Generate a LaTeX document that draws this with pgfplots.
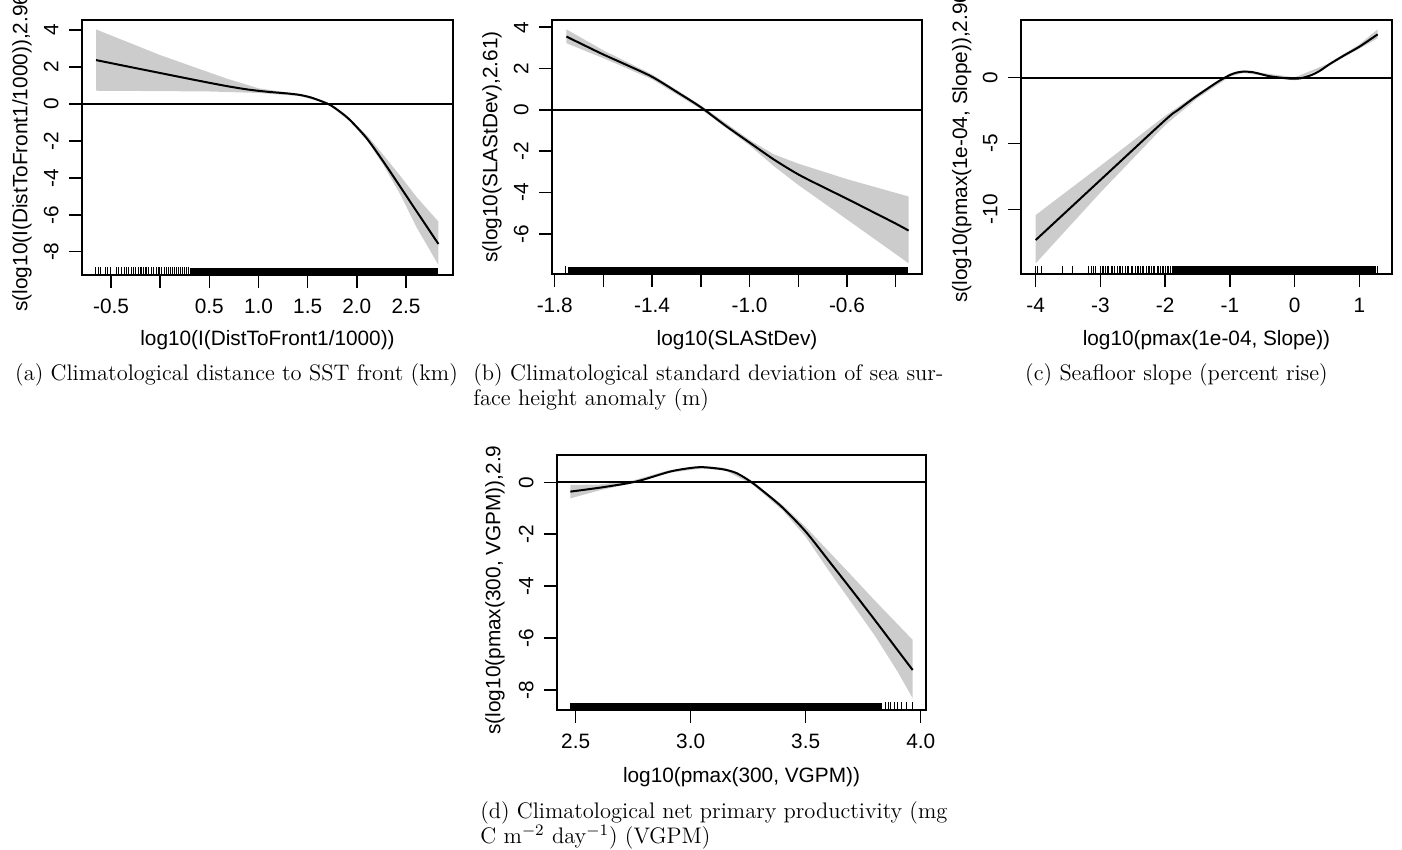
\documentclass[border=0pt]{standalone}
\usepackage{pgfplots}
\pgfplotsset{compat=1.18}
\usepackage{fontspec}
\newfontfamily\rsans{Liberation Sans}
\newcommand\rfont{\rsans\fontsize{10.4pt}{12pt}\selectfont}
\newcommand\capfont{\fontsize{11.25pt}{13.5pt}\selectfont}
\definecolor{bandgray}{RGB}{204,204,204}

\pgfplotsset{
  rstyle/.style={
    scale only axis,
    anchor=south west,
    axis line style={line width=0.75pt},
    tick align=outside,
    tick pos=left,
    major tick length=6.5pt,
    every tick/.style={black, line width=0.75pt},
    minor tick num=0,
    tick label style={font=\rfont, inner sep=0pt},
    xticklabel style={anchor=base},
    yticklabel style={rotate=90, anchor=base},
    xticklabel shift=12.9pt,
    yticklabel shift=5.3pt,
    every axis x label/.style={font=\rfont, anchor=center},
    every axis y label/.style={font=\rfont, rotate=90, anchor=west, inner sep=0pt},
    clip=true,
  },
  band/.style={fill=bandgray, draw=none},
  fit/.style={black, line width=1pt, smooth},
  zero/.style={black, line width=0.85pt},
  rug/.style={only marks, mark=|, mark size=1.9pt, mark options={line width=0.5pt, black}},
  rugblock/.style={fill=black, draw=none},
}

\begin{document}
\begin{tikzpicture}

% (a) distance to SST front
\begin{axis}[rstyle, at={(41pt,-137.5pt)}, width=185.5pt, height=127.5pt,
  xmin=-0.795, xmax=2.978, ymin=-9.26, ymax=4.55,
  xtick={-0.5,0,0.5,1,1.5,2,2.5}, xticklabels={-0.5,,0.5,1.0,1.5,2.0,2.5},
  ytick={-8,-6,-4,-2,0,2,4}, yticklabels={-8,-6,-4,-2,0,2,4},
  xlabel={log10(I(DistToFront1/1000))},
  xlabel style={at={(axis description cs:0.5,-0.257)}},
  ylabel={s(log10(I(DistToFront1/1000)),2.96)},
  ylabel style={at={(axis description cs:-0.162,-0.145)}},
]
\addplot[band] coordinates {
  (-0.652,4.04) (0,2.65) (0.67,1.39) (1.0,0.85) (1.3,0.62) (1.42,0.55) (1.63,0.23)
  (1.73,0.0) (1.93,-0.8) (2.1,-1.68) (2.27,-2.76) (2.44,-3.88) (2.61,-5.05) (2.83,-6.37)
  (2.83,-8.72) (2.61,-6.7) (2.44,-4.88) (2.27,-3.30) (2.1,-1.95) (1.93,-0.95)
  (1.73,-0.1) (1.63,0.13) (1.42,0.43) (1.3,0.48) (1.0,0.6) (0.5,0.68) (0,0.70) (-0.652,0.72)
} -- cycle;
\addplot[zero] coordinates {(-0.795,0) (2.978,0)};
\addplot[fit] coordinates {
  (-0.652,2.38) (-0.3,2.0) (0,1.68) (0.3,1.36) (0.5,1.15) (0.7,0.95) (0.9,0.78)
  (1.1,0.66) (1.3,0.57) (1.423,0.49) (1.53,0.36) (1.626,0.18) (1.728,-0.05)
  (1.83,-0.42) (1.931,-0.87) (2.101,-1.86) (2.27,-3.12) (2.44,-4.47)
  (2.61,-5.83) (2.83,-7.58)
};
\addplot[rugblock] coordinates {(0.30,-9.26) (2.83,-9.26) (2.83,-8.854) (0.30,-8.854)} -- cycle;
\addplot[rug] coordinates {
  (-0.656,-9.057) (-0.629,-9.057) (-0.602,-9.057) (-0.561,-9.057) (-0.534,-9.057)
  (-0.510,-9.057) (-0.442,-9.057) (-0.426,-9.057) (-0.391,-9.057) (-0.365,-9.057)
  (-0.340,-9.057) (-0.324,-9.057) (-0.289,-9.057) (-0.273,-9.057) (-0.256,-9.057)
  (-0.222,-9.057) (-0.205,-9.057) (-0.188,-9.057) (-0.171,-9.057) (-0.154,-9.057)
  (-0.137,-9.057) (-0.121,-9.057) (-0.086,-9.057) (-0.070,-9.057) (-0.042,-9.057)
  (-0.022,-9.057) (-0.002,-9.057) (0.018,-9.057) (0.039,-9.057) (0.060,-9.057)
  (0.080,-9.057) (0.100,-9.057) (0.121,-9.057) (0.141,-9.057) (0.161,-9.057)
  (0.182,-9.057) (0.202,-9.057) (0.222,-9.057) (0.243,-9.057) (0.263,-9.057) (0.283,-9.057)
};
\end{axis}

% (b) SLA standard deviation
\begin{axis}[rstyle, at={(276pt,-137pt)}, width=185pt, height=127pt,
  xmin=-1.811, xmax=-0.292, ymin=-7.94, ymax=4.35,
  xtick={-1.8,-1.6,-1.4,-1.2,-1.0,-0.8,-0.6,-0.4}, xticklabels={-1.8,,-1.4,,-1.0,,-0.6,},
  ytick={-6,-4,-2,0,2,4}, yticklabels={-6,-4,-2,0,2,4},
  xlabel={log10(SLAStDev)},
  xlabel style={at={(axis description cs:0.5,-0.26)}},
  ylabel={s(log10(SLAStDev),2.61)},
  ylabel style={at={(axis description cs:-0.162,0.043)}},
]
\addplot[band] coordinates {
  (-1.752,3.9) (-1.6,2.88) (-1.4,1.72) (-1.2,0.22) (-1.0,-1.45) (-0.9,-2.15)
  (-0.8,-2.6) (-0.6,-3.35) (-0.347,-4.19)
  (-0.347,-7.42) (-0.6,-5.3) (-0.8,-3.63) (-0.9,-2.72) (-1.0,-1.72)
  (-1.2,0.04) (-1.4,1.48) (-1.6,2.5) (-1.752,3.23)
} -- cycle;
\addplot[zero] coordinates {(-1.811,0) (-0.292,0)};
\addplot[fit] coordinates {
  (-1.752,3.55) (-1.7,3.25) (-1.6,2.68) (-1.5,2.15) (-1.4,1.6) (-1.3,0.88)
  (-1.2,0.13) (-1.1,-0.75) (-1.0,-1.58) (-0.9,-2.4) (-0.8,-3.12) (-0.7,-3.72)
  (-0.6,-4.3) (-0.5,-4.9) (-0.4,-5.5) (-0.347,-5.84)
};
\addplot[rugblock] coordinates {(-1.745,-7.94) (-0.349,-7.94) (-0.349,-7.577) (-1.745,-7.577)} -- cycle;
\addplot[rug] coordinates {(-1.757,-7.758)};
\end{axis}

% (c) seafloor slope
\begin{axis}[rstyle, at={(510.5pt,-137pt)}, width=185.5pt, height=127pt,
  xmin=-4.227, xmax=1.505, ymin=-14.91, ymax=4.38,
  xtick={-4,-3,-2,-1,0,1}, xticklabels={-4,-3,-2,-1,0,1},
  ytick={-10,-5,0}, yticklabels={-10,-5,0},
  xlabel={log10(pmax(1e-04, Slope))},
  xlabel style={at={(axis description cs:0.5,-0.26)}},
  ylabel={s(log10(pmax(1e-04, Slope)),2.96)},
  ylabel style={at={(axis description cs:-0.16,-0.114)}},
]
\addplot[band] coordinates {
  (-4,-10.43) (-3,-6.7) (-2,-2.9) (-1.5,-1.2) (-1.0,0.32) (-0.79,0.56) (-0.5,0.36)
  (0,0.02) (0.5,1.02) (1.0,2.52) (1.283,3.67)
  (1.283,2.99) (1.0,2.2) (0.5,0.84) (0,-0.2) (-0.5,0.16) (-0.79,0.36) (-1.0,0.08)
  (-1.5,-1.55) (-2,-3.6) (-3,-8.72) (-4,-14.1)
} -- cycle;
\addplot[zero] coordinates {(-4.227,0) (1.505,0)};
\addplot[fit] coordinates {
  (-4,-12.33) (-3,-7.77) (-2,-3.22) (-1.8,-2.45) (-1.563,-1.57) (-1.3,-0.68)
  (-1.15,-0.2) (-1.0,0.2) (-0.9,0.38) (-0.79,0.46) (-0.65,0.42) (-0.53,0.28)
  (-0.4,0.12) (-0.27,0.03) (-0.1,-0.06) (0,-0.08) (0.1,-0.04) (0.26,0.2)
  (0.4,0.55) (0.52,0.96) (0.75,1.65) (1.0,2.35) (1.283,3.29)
};
\addplot[rugblock] coordinates {(-1.89,-14.91) (1.25,-14.91) (1.25,-14.34) (-1.89,-14.34)} -- cycle;
\addplot[rug] coordinates {
  (-4.0,-14.625) (-3.974,-14.625) (-3.91,-14.625) (-3.588,-14.625) (-3.434,-14.625)
  (-3.177,-14.625) (-3.14,-14.625) (-3.10,-14.625) (-3.074,-14.625) (-2.996,-14.625)
  (-2.97,-14.625) (-2.945,-14.625) (-2.919,-14.625) (-2.893,-14.625) (-2.868,-14.625)
  (-2.827,-14.625) (-2.806,-14.625) (-2.775,-14.625) (-2.739,-14.625) (-2.713,-14.625)
  (-2.688,-14.625) (-2.652,-14.625) (-2.61,-14.625) (-2.585,-14.625) (-2.559,-14.625)
  (-2.518,-14.625) (-2.497,-14.625) (-2.456,-14.625) (-2.43,-14.625) (-2.405,-14.625)
  (-2.379,-14.625) (-2.353,-14.625) (-2.327,-14.625) (-2.291,-14.625) (-2.26,-14.625)
  (-2.24,-14.625) (-2.209,-14.625) (-2.183,-14.625) (-2.157,-14.625) (-2.121,-14.625)
  (-2.096,-14.625) (-2.07,-14.625) (-2.044,-14.625) (-2.018,-14.625) (-1.993,-14.625)
  (-1.967,-14.625) (-1.941,-14.625) (-1.916,-14.625) (1.283,-14.625)
};
\end{axis}

% (d) VGPM productivity
\begin{axis}[rstyle, at={(278.5pt,-355pt)}, width=184.5pt, height=127.5pt,
  xmin=2.419, xmax=4.023, ymin=-8.77, ymax=1.05,
  xtick={2.5,3,3.5,4}, xticklabels={2.5,3.0,3.5,4.0},
  ytick={-8,-6,-4,-2,0}, yticklabels={-8,-6,-4,-2,0},
  xlabel={log10(pmax(300, VGPM))},
  xlabel style={at={(axis description cs:0.5,-0.263)}},
  ylabel={s(log10(pmax(300, VGPM)),2.9},
  ylabel style={at={(axis description cs:-0.168,-0.098)}},
]
\addplot[band] coordinates {
  (2.477,-0.10) (2.6,-0.09) (2.75,0.07) (2.9,0.45) (3.05,0.63) (3.15,0.55)
  (3.265,0.05) (3.4,-0.88) (3.5,-1.72) (3.6,-2.66) (3.7,-3.6) (3.8,-4.55) (3.9,-5.47) (3.965,-6.07)
  (3.965,-8.32) (3.9,-7.3) (3.8,-5.9) (3.7,-4.65) (3.6,-3.4) (3.5,-2.1) (3.4,-1.08) (3.265,-0.06)
  (3.15,0.45) (3.05,0.53) (2.9,0.36) (2.75,-0.02) (2.6,-0.32) (2.477,-0.62)
} -- cycle;
\addplot[zero] coordinates {(2.419,0) (4.023,0)};
\addplot[fit] coordinates {
  (2.477,-0.36) (2.619,-0.19) (2.764,0.03) (2.91,0.41) (3.0,0.55) (3.055,0.58)
  (3.14,0.5) (3.2,0.35) (3.265,0.0) (3.33,-0.45) (3.4,-0.98) (3.5,-1.9)
  (3.6,-3.02) (3.7,-4.15) (3.8,-5.3) (3.9,-6.47) (3.965,-7.23)
};
\addplot[rugblock] coordinates {(2.477,-8.77) (3.83,-8.77) (3.83,-8.481) (2.477,-8.481)} -- cycle;
\addplot[rug] coordinates {
  (3.845,-8.626) (3.86,-8.626) (3.87,-8.626) (3.884,-8.626) (3.898,-8.626)
  (3.918,-8.626) (3.94,-8.626) (3.965,-8.626)
};
\end{axis}

% captions
\node[anchor=base, font=\capfont] at (118.25pt,-190pt) {(a) Climatological distance to SST front (km)};
\node[anchor=base west, inner sep=0pt, font=\capfont] at (236.5pt,-190pt)
  {\makebox[235pt][s]{(b) Climatological standard deviation of sea sur-}};
\node[anchor=base west, inner sep=0pt, font=\capfont] at (236.5pt,-202.5pt) {face height anomaly (m)};
\node[anchor=base, font=\capfont] at (588.25pt,-190pt) {(c) Seafloor slope (percent rise)};
\node[anchor=base west, inner sep=0pt, font=\capfont] at (240pt,-409pt)
  {\makebox[233.5pt][s]{(d) Climatological net primary productivity (mg}};
\node[anchor=base west, inner sep=0pt, font=\capfont] at (240pt,-421.5pt)
  {C m$^{-2}$ day$^{-1}$) (VGPM)};

\pgfresetboundingbox
\path[use as bounding box] (0pt,0pt) rectangle (701pt,-425pt);
\end{tikzpicture}
\end{document}
